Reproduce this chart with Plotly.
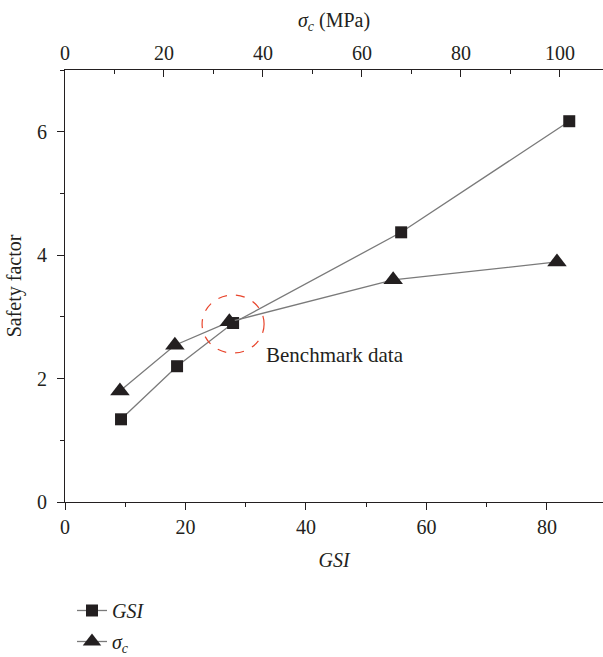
import plotly.graph_objects as go

gsi_x = [9.3, 18.6, 27.9, 55.8, 83.7]
gsi_sf = [1.34, 2.20, 2.90, 4.37, 6.17]
sigc_x = [11.1, 22.2, 33.2, 66.3, 99.4]
sigc_sf = [1.80, 2.54, 2.92, 3.60, 3.89]
bench_idx = 2

FONT = "Liberation Serif, Times New Roman, serif"
BLACK = "#231f20"
GRAY = "#7a7a7a"

fig = go.Figure()
fig.add_trace(go.Scatter(
    x=gsi_x, y=gsi_sf, mode="lines+markers", name="<i>GSI</i>",
    legendgroup="a",
    line=dict(color=GRAY, width=1.3),
    marker=dict(symbol="square", size=12, color=BLACK),
    xaxis="x", yaxis="y"))
fig.add_trace(go.Scatter(
    x=sigc_x, y=sigc_sf, mode="lines+markers", name="<i>σ<sub>c</sub></i>",
    legendgroup="b",
    line=dict(color=GRAY, width=1.3),
    marker=dict(symbol="triangle-up", size=17, color=BLACK),
    xaxis="x2", yaxis="y"))

bx, by = gsi_x[bench_idx], gsi_sf[bench_idx]
fig.add_shape(type="circle", xref="x", yref="y",
              xsizemode="pixel", ysizemode="pixel",
              xanchor=bx, yanchor=by,
              x0=-31, x1=31, y0=-30, y1=28,
              line=dict(color="#e8452c", width=1.2, dash="dash"))
fig.add_annotation(x=bx, y=by, xref="x", yref="y", text="Benchmark data",
                   showarrow=False, xanchor="left", yanchor="middle",
                   xshift=31, yshift=-32,
                   font=dict(family=FONT, size=21, color=BLACK))

def axis_common(ticks, standoff):
    return dict(showgrid=False, zeroline=False, showline=True, automargin=False,
                linecolor=BLACK, linewidth=1, ticks=ticks,
                ticklen=7, tickcolor=BLACK, tickwidth=1,
                ticklabelstandoff=standoff,
                tickfont=dict(family=FONT, size=20, color=BLACK))

fig.update_layout(
    width=603, height=657,
    paper_bgcolor="white", plot_bgcolor="white",
    margin=dict(l=65, r=0, t=70, b=155, autoexpand=False),
    font=dict(family=FONT, size=20, color=BLACK),
    xaxis=dict(range=[0, 89.3], dtick=20, tick0=0,
               minor=dict(ticks="outside", ticklen=4, dtick=10, tickcolor=BLACK),
               title=dict(text="<i>GSI</i>", font=dict(family=FONT, size=20), standoff=15),
               **axis_common("outside", 0)),
    xaxis2=dict(range=[0, 108.7], dtick=20, tick0=0, overlaying="x", side="top",
                anchor="y",
                minor=dict(ticks="inside", ticklen=4, dtick=10, tickcolor=BLACK),
                title=dict(text="<i>σ<sub>c</sub></i> (MPa)", font=dict(family=FONT, size=20), standoff=9),
                **axis_common("inside", 1)),
    yaxis=dict(range=[0, 7], dtick=2, tick0=0,
               minor=dict(ticks="outside", ticklen=4, dtick=1, tickcolor=BLACK),
               title=dict(text="Safety factor", font=dict(family=FONT, size=20), standoff=10),
               **axis_common("outside", 6)),
    legend=dict(x=0.013, xanchor="left", y=-0.206, yanchor="top",
                font=dict(family=FONT, size=20, color=BLACK),
                bgcolor="rgba(0,0,0,0)", tracegroupgap=2),
    showlegend=True,
)

fig.write_html("out.html", config={"displayModeBar": False},
               post_script="document.body.style.margin='0';document.body.style.overflow='hidden';")
